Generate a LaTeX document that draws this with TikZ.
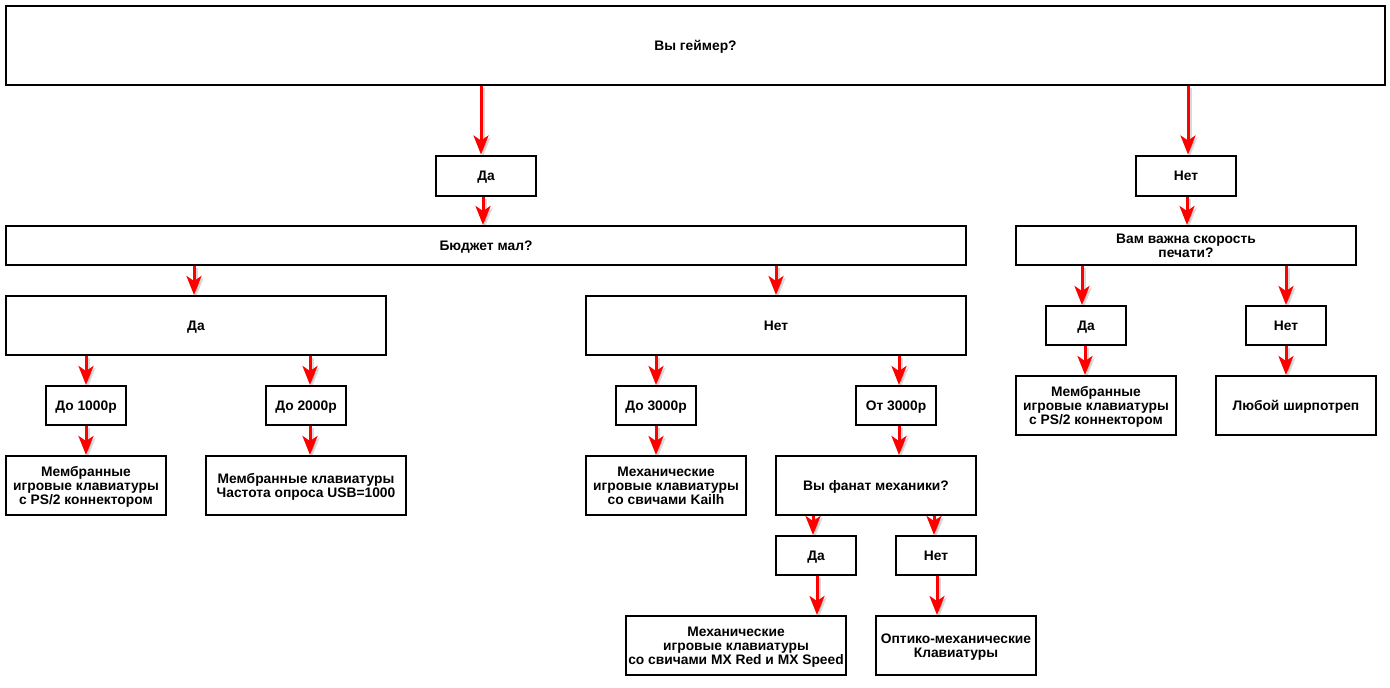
\documentclass[tikz,border=0pt]{standalone}
\usepackage{fontspec}
\setmainfont{Liberation Sans}
\usetikzlibrary{arrows.meta}
\definecolor{arrred}{RGB}{255,0,0}
\newcommand\lowtxt[1]{\raisebox{-1.8pt}[\height][\depth]{\begin{tabular}{@{}c@{}}#1\end{tabular}}}
\tikzset{
  box/.style={draw=black, line width=2pt, fill=white, inner sep=0pt,
    font=\bfseries\fontsize{13.8}{14}\selectfont},
  arr/.style={draw=arrred, line width=3pt,
    -{Stealth[length=19pt,width=15pt,inset=5pt]},
    preaction={draw=black, opacity=0.15, line width=4pt,
      transform canvas={shift={(2pt,-2pt)}}}},
}
\begin{document}
\begin{tikzpicture}[x=1pt,y=-1pt]
\useasboundingbox (0,0) rectangle (1390,688);
\fill[white] (0,0) rectangle (1390,688);
% boxes: center, width, height
\node[box, minimum width=1379pt, minimum height=79pt] (top) at (695.5,45.5) {\lowtxt{Вы геймер?}};
\node[box, minimum width=100pt, minimum height=40pt] (da1) at (486,175.5) {\lowtxt{Да}};
\node[box, minimum width=100pt, minimum height=40pt] (net1) at (1186,175.5) {\lowtxt{Нет}};
\node[box, minimum width=960pt, minimum height=39pt] (budget) at (486,245.5) {\lowtxt{Бюджет мал?}};
\node[box, minimum width=340pt, minimum height=39pt] (speed) at (1186,245.5) {\lowtxt{Вам важна скорость\\печати?}};
\node[box, minimum width=380pt, minimum height=59pt] (da2) at (196,325.5) {\lowtxt{Да}};
\node[box, minimum width=380pt, minimum height=59pt] (net2) at (776,325.5) {\lowtxt{Нет}};
\node[box, minimum width=80pt, minimum height=39pt] (da3) at (1086,325.5) {\lowtxt{Да}};
\node[box, minimum width=80pt, minimum height=39pt] (net3) at (1286,325.5) {\lowtxt{Нет}};
\node[box, minimum width=80pt, minimum height=39pt] (d1000) at (86,405.5) {\lowtxt{До 1000р}};
\node[box, minimum width=80pt, minimum height=39pt] (d2000) at (306,405.5) {\lowtxt{До 2000р}};
\node[box, minimum width=80pt, minimum height=39pt] (d3000) at (656,405.5) {\lowtxt{До 3000р}};
\node[box, minimum width=80pt, minimum height=39pt] (o3000) at (896,405.5) {\lowtxt{От 3000р}};
\node[box, minimum width=160pt, minimum height=59pt] (memb2) at (1096,405.5) {\lowtxt{Мембранные\\игровые клавиатуры\\с PS/2 коннектором}};
\node[box, minimum width=160pt, minimum height=59pt] (any) at (1296,405.5) {\lowtxt{Любой ширпотреп}};
\node[box, minimum width=160pt, minimum height=59pt] (memb1) at (86,485.5) {\lowtxt{Мембранные\\игровые клавиатуры\\с PS/2 коннектором}};
\node[box, minimum width=200pt, minimum height=59pt] (usb) at (306,485.5) {\lowtxt{Мембранные клавиатуры\\Частота опроса USB=1000}};
\node[box, minimum width=160pt, minimum height=59pt] (kailh) at (666,485.5) {\lowtxt{Механические\\игровые клавиатуры\\со свичами Kailh}};
\node[box, minimum width=200pt, minimum height=59pt] (fan) at (876,485.5) {\lowtxt{Вы фанат механики?}};
\node[box, minimum width=80pt, minimum height=39pt] (da4) at (816,555.5) {\lowtxt{Да}};
\node[box, minimum width=80pt, minimum height=39pt] (net4) at (936,555.5) {\lowtxt{Нет}};
\node[box, minimum width=220pt, minimum height=59pt] (mx) at (736,645.5) {\lowtxt{Механические\\игровые клавиатуры\\со свичами MX Red и MX Speed}};
\node[box, minimum width=160pt, minimum height=59pt] (opt) at (956,645.5) {\lowtxt{Оптико-механические\\Клавиатуры}};
% arrows
\draw[arr] ([xshift=-5pt]da1.north |- top.south) -- ([xshift=-5pt]da1.north);
\draw[arr] ([xshift=2pt]net1.north |- top.south) -- ([xshift=2pt]net1.north);
\draw[arr] ([xshift=-3pt]da1.south) -- ([xshift=-3pt]da1.south |- budget.north);
\draw[arr] ([xshift=1pt]net1.south) -- ([xshift=1pt]net1.south |- speed.north);
\draw[arr] ([xshift=-2pt]da2.north |- budget.south) -- ([xshift=-2pt]da2.north);
\draw[arr] (net2.north |- budget.south) -- (net2.north);
\draw[arr] ([xshift=-4pt]da3.north |- speed.south) -- ([xshift=-4pt]da3.north);
\draw[arr] (net3.north |- speed.south) -- (net3.north);
\draw[arr] (d1000.north |- da2.south) -- (d1000.north);
\draw[arr] ([xshift=4pt]d2000.north |- da2.south) -- ([xshift=4pt]d2000.north);
\draw[arr] (d3000.north |- net2.south) -- (d3000.north);
\draw[arr] ([xshift=3pt]o3000.north |- net2.south) -- ([xshift=3pt]o3000.north);
\draw[arr] ([xshift=-1pt]da3.south) -- ([xshift=-1pt]da3.south |- memb2.north);
\draw[arr] (net3.south) -- (net3.south |- any.north);
\draw[arr] (d1000.south) -- (d1000.south |- memb1.north);
\draw[arr] ([xshift=4pt]d2000.south) -- ([xshift=4pt]d2000.south |- usb.north);
\draw[arr] (d3000.south) -- (d3000.south |- kailh.north);
\draw[arr] ([xshift=3pt]o3000.south) -- ([xshift=3pt]o3000.south |- fan.north);
\draw[arr] ([xshift=-3pt]da4.north |- fan.south) -- ([xshift=-3pt]da4.north);
\draw[arr] ([xshift=-2pt]net4.north |- fan.south) -- ([xshift=-2pt]net4.north);
\draw[arr] ([xshift=1pt]da4.south) -- ([xshift=1pt]da4.south |- mx.north);
\draw[arr] ([xshift=1pt]net4.south) -- ([xshift=1pt]net4.south |- opt.north);
\end{tikzpicture}
\end{document}
